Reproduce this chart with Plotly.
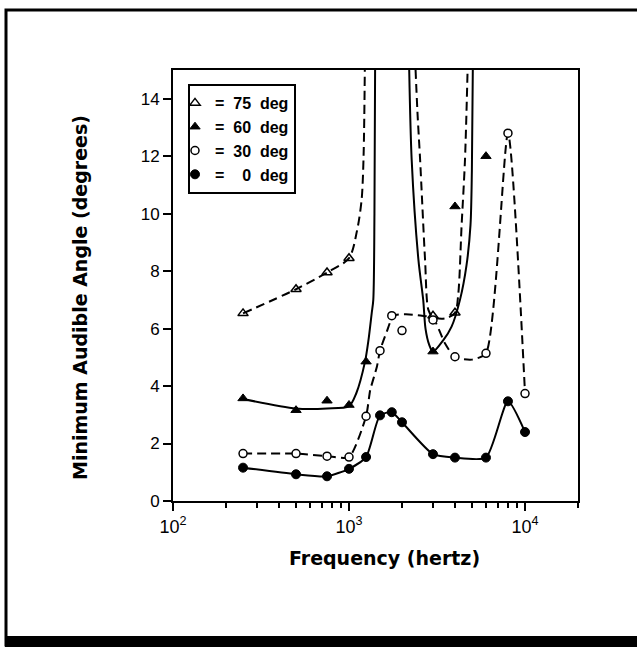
import plotly.graph_objects as go

# ---- measured points (frequency in Hz, minimum audible angle in degrees) ----
f75 = [250, 500, 750, 1000, 3000, 4000]
a75 = [6.53, 7.37, 7.95, 8.45, 6.45, 6.55]

f60 = [250, 500, 750, 1000, 1250, 3000, 4000, 6000]
a60 = [3.57, 3.16, 3.49, 3.34, 4.85, 5.2, 10.25, 12.0]

f30 = [250, 500, 750, 1000, 1250, 1500, 1750, 2000, 3000, 4000, 6000, 8000, 10000]
a30 = [1.65, 1.65, 1.56, 1.53, 2.95, 5.23, 6.45, 5.93, 6.3, 5.02, 5.14, 12.8, 3.74]

f0 = [250, 500, 750, 1000, 1250, 1500, 1750, 2000, 3000, 4000, 6000, 8000, 10000]
a0 = [1.16, 0.93, 0.86, 1.12, 1.53, 2.98, 3.09, 2.74, 1.63, 1.51, 1.51, 3.47, 2.40]

# ---- fitted curves (None = curve leaves the chart) ----
c75_f = [250, 500, 750, 1000, 1110, 1180, 1210, 1232, None,
         2370, 2450, 2535, 2705, 2825, 3000, 3500, 4000, 4180, 4360, 4560, 4740]
c75_a = [6.53, 7.37, 7.95, 8.45, 9.4, 10.5, 12.0, 15.5, None,
         15.5, 13.5, 11.88, 8.39, 6.65, 6.4, 6.35, 6.55, 7.23, 9.56, 11.88, 15.5]

c60_f = [250, 500, 750, 1000, 1100, 1233, 1290, 1346, 1374, 1395, 1408, None,
         2190, 2270, 2480, 2640, 2720, 2850, 3000, 3436, 3826, 4270, 4650, 4900, 4990, 5060]
c60_a = [3.55, 3.22, 3.22, 3.3, 3.75, 4.85, 5.6, 6.54, 7.0, 10.0, 15.5, None,
         15.5, 11.88, 8.39, 7.0, 6.0, 5.45, 5.2, 5.6, 6.07, 7.0, 8.2, 9.6, 11.5, 15.5]

c30_f = [250, 500, 750, 1000, 1250, 1320, 1440, 1500, 1640, 1790, 2100, 2600, 3000,
         3500, 4000, 5000, 6000, 8000, 10000]
c30_a = [1.65, 1.65, 1.56, 1.53, 2.95, 3.86, 4.67, 5.23, 5.9, 6.45, 6.5, 6.45, 6.36,
         5.5, 5.0, 4.92, 5.14, 12.8, 3.74]

c0_f = f0
c0_a = a0

legend_names = ["=\u00a0 75\u00a0\u00a0deg", "=\u00a0 60\u00a0\u00a0deg",
                "=\u00a0 30\u00a0\u00a0deg", "=\u00a0\u2007\u00a00\u00a0\u00a0deg"]

x_tickvals = [100, 1000, 10000]
x_ticktext = ["10<sup>2</sup>", "10<sup>3</sup>", "10<sup>4</sup>"]
x_minor = [200, 300, 400, 500, 600, 700, 800, 900,
           2000, 3000, 4000, 5000, 6000, 7000, 8000, 9000, 20000]
y_tickvals = [0, 2, 4, 6, 8, 10, 12, 14]

BLACK = "#000000"
fig = go.Figure()

dash = "9px,5px"
fig.add_trace(go.Scatter(x=c75_f, y=c75_a, mode="lines", line=dict(color=BLACK, width=2, dash=dash, shape="spline", smoothing=0.8), connectgaps=False, showlegend=False, hoverinfo="skip"))
fig.add_trace(go.Scatter(x=c60_f, y=c60_a, mode="lines", line=dict(color=BLACK, width=2, shape="spline", smoothing=0.8), connectgaps=False, showlegend=False, hoverinfo="skip"))
fig.add_trace(go.Scatter(x=c30_f, y=c30_a, mode="lines", line=dict(color=BLACK, width=2, dash=dash, shape="spline", smoothing=0.6), connectgaps=False, showlegend=False, hoverinfo="skip"))
fig.add_trace(go.Scatter(x=c0_f, y=c0_a, mode="lines", line=dict(color=BLACK, width=2, shape="spline", smoothing=0.6), connectgaps=False, showlegend=False, hoverinfo="skip"))

fig.add_trace(go.Scatter(x=f75, y=a75, mode="markers", name=legend_names[0],
                         marker=dict(symbol="triangle-up-open", size=9, color=BLACK, line=dict(color=BLACK, width=1.5)), cliponaxis=False))
fig.add_trace(go.Scatter(x=f60, y=a60, mode="markers", name=legend_names[1],
                         marker=dict(symbol="triangle-up", size=9, color=BLACK, line=dict(color=BLACK, width=1)), cliponaxis=False))
fig.add_trace(go.Scatter(x=f30, y=a30, mode="markers", name=legend_names[2],
                         marker=dict(symbol="circle", size=8, color="white", line=dict(color=BLACK, width=1.5)), cliponaxis=False))
fig.add_trace(go.Scatter(x=f0, y=a0, mode="markers", name=legend_names[3],
                         marker=dict(symbol="circle", size=9, color=BLACK, line=dict(color=BLACK, width=1)), cliponaxis=False))

L, R, T, B = 173, 59, 70, 146
W, H = 637, 647
pw, ph = W - L - R, H - T - B
def px(x):
    return (x - L) / pw
def py(y):
    return (H - B - y) / ph

fig.update_layout(
    width=W, height=H,
    margin=dict(l=L, r=R, t=T, b=B, pad=0),
    paper_bgcolor="white", plot_bgcolor="white",
    font=dict(family="Liberation Sans, Arial, sans-serif", color=BLACK, size=16),
    showlegend=True,
    legend=dict(x=px(188), y=py(84), xanchor="left", yanchor="top",
                bgcolor="white", bordercolor=BLACK, borderwidth=2,
                font=dict(family="Liberation Sans, Arial, sans-serif", size=16, weight="bold"),
                traceorder="normal", indentation=-15, itemwidth=30),
    xaxis=dict(type="log", range=[2, 4.30103], tickmode="array", tickvals=x_tickvals, ticktext=x_ticktext,
               ticks="outside", ticklen=8, tickwidth=1.5, tickcolor=BLACK,
               showline=True, linewidth=2, linecolor=BLACK, mirror=True,
               showgrid=False, zeroline=False,
               tickfont=dict(size=18),
               minor=dict(tickmode="array", tickvals=x_minor, ticks="outside", ticklen=5, tickwidth=1.5, tickcolor=BLACK, showgrid=False)),
    yaxis=dict(range=[0, 15], tickmode="array", tickvals=y_tickvals,
               ticks="outside", ticklen=8, tickwidth=1.5, tickcolor=BLACK,
               showline=True, linewidth=2, linecolor=BLACK, mirror=True,
               showgrid=False, zeroline=False, tickfont=dict(size=17)),
    annotations=[
        dict(text="Frequency (hertz)", xref="paper", yref="paper", x=px(384), y=py(558),
             xanchor="center", yanchor="middle", showarrow=False,
             font=dict(family="DejaVu Sans", size=19, weight="bold")),
        dict(text="Minimum Audible Angle (degrees)", xref="paper", yref="paper", x=px(80), y=py(298),
             xanchor="center", yanchor="middle", showarrow=False, textangle=-90,
             font=dict(family="DejaVu Sans", size=19, weight="bold")),
    ],
    shapes=[
        dict(type="rect", xref="paper", yref="paper", x0=px(6), x1=px(645), y0=py(645), y1=py(10),
             line=dict(color=BLACK, width=3), fillcolor="rgba(0,0,0,0)", layer="below"),
        dict(type="rect", xref="paper", yref="paper", x0=px(5), x1=px(645), y0=py(650), y1=py(636),
             line=dict(width=0), fillcolor=BLACK, layer="below"),
    ],
)

fig.write_html("out.html", config={"displayModeBar": False},
               post_script="document.body.style.margin='0px';document.body.style.overflow='hidden';")
